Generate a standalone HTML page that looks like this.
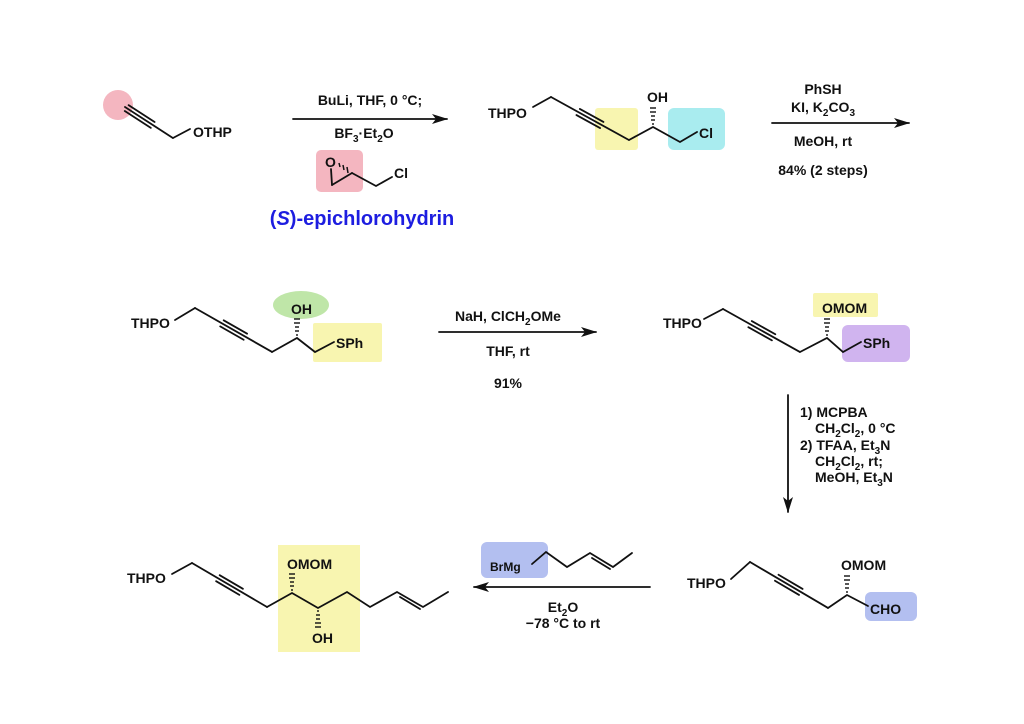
<!DOCTYPE html>
<html><head><meta charset="utf-8"><style>
html,body{margin:0;padding:0;background:#fff;}
svg{display:block;}
text{font-family:"Liberation Sans",Arial,sans-serif;font-weight:bold;font-size:14px;fill:#111;}
.b{stroke:#111;stroke-width:1.8;fill:none;stroke-linecap:round;}
.s{font-size:10px;}
</style></head><body>
<svg width="1024" height="724" viewBox="0 0 1024 724" xmlns="http://www.w3.org/2000/svg">
<defs>
<marker id="ah" markerWidth="16" markerHeight="10" refX="15" refY="5" orient="auto" markerUnits="userSpaceOnUse">
<path d="M0,0 L16,5 L0,10 L4,5 Z" fill="#111"/></marker>
</defs>

<!-- highlights -->
<circle cx="118" cy="105" r="15" fill="#f4b6c0"/>
<rect x="316" y="150" width="47" height="42" rx="5" fill="#f4b6c0"/>
<rect x="595" y="108" width="43" height="42" rx="3" fill="#f8f5b0"/>
<rect x="668" y="108" width="57" height="42" rx="6" fill="#a9ecef"/>
<ellipse cx="301" cy="305" rx="28" ry="14" fill="#bfe6a8"/>
<rect x="313" y="323" width="69" height="39" rx="2" fill="#f8f5b0"/>
<rect x="813" y="293" width="65" height="24" rx="2" fill="#f8f5b0"/>
<rect x="842" y="325" width="68" height="37" rx="6" fill="#d0b4ef"/>
<rect x="865" y="592" width="52" height="29" rx="6" fill="#b3bff0"/>
<rect x="481" y="542" width="67" height="36" rx="6" fill="#b3bff0"/>
<rect x="278" y="545" width="82" height="107" fill="#f8f5b0"/>

<!-- Row1: propargyl OTHP -->
<g transform="translate(125,107) rotate(32.9)">
<line class="b" x1="0" y1="0" x2="57" y2="0"/>
<line class="b" x1="2" y1="-3.5" x2="33" y2="-3.5"/>
<line class="b" x1="2" y1="3.5" x2="33" y2="3.5"/>
</g>
<polyline class="b" points="173,138 190,129"/>
<text x="193" y="137">OTHP</text>

<!-- arrow 1 -->
<line class="b" x1="293" y1="119" x2="447" y2="119" marker-end="url(#ah)"/>
<text x="370" y="105" text-anchor="middle">BuLi, THF, 0 °C;</text>
<text x="364" y="138" text-anchor="middle">BF<tspan class="s" dy="4">3</tspan><tspan dy="-4">·Et</tspan><tspan class="s" dy="4">2</tspan><tspan dy="-4">O</tspan></text>
<!-- epoxide -->
<text x="325" y="167">O</text>
<line class="b" x1="331" y1="169" x2="332" y2="185"/>
<line class="b" x1="332" y1="185" x2="352" y2="173"/>
<g stroke="#111" stroke-width="1.5">
<line x1="339" y1="163" x2="340" y2="167"/><line x1="343" y1="165" x2="344" y2="170"/><line x1="347" y1="167" x2="348" y2="173"/>
</g>
<polyline class="b" points="352,173 376,186 392,177"/>
<text x="394" y="178">Cl</text>
<text x="362" y="225" text-anchor="middle" style="font-size:20px;fill:#1d1de0">(<tspan style="font-style:italic;fill:#1d1de0">S</tspan>)-epichlorohydrin</text>

<!-- product 1 -->
<text x="488" y="118">THPO</text>
<line class="b" x1="533" y1="107" x2="551" y2="97"/>
<g transform="translate(551,97) rotate(28.9)">
<line class="b" x1="0" y1="0" x2="89" y2="0"/>
<line class="b" x1="31" y1="-3.5" x2="58" y2="-3.5"/>
<line class="b" x1="31" y1="3.5" x2="58" y2="3.5"/>
</g>
<polyline class="b" points="629,140 653,127 680,142 697,132"/>
<g stroke="#111" stroke-width="1.4">
<line x1="652" y1="124" x2="654" y2="124"/><line x1="651" y1="120" x2="655" y2="120"/><line x1="651" y1="116" x2="655" y2="116"/><line x1="650" y1="112" x2="656" y2="112"/><line x1="650" y1="108" x2="656" y2="108"/>
</g>
<text x="647" y="102">OH</text>
<text x="699" y="138">Cl</text>

<!-- arrow 2 -->
<line class="b" x1="772" y1="123" x2="909" y2="123" marker-end="url(#ah)"/>
<text x="823" y="94" text-anchor="middle">PhSH</text>
<text x="823" y="112" text-anchor="middle">KI, K<tspan class="s" dy="4">2</tspan><tspan dy="-4">CO</tspan><tspan class="s" dy="4">3</tspan></text>
<text x="823" y="146" text-anchor="middle">MeOH, rt</text>
<text x="823" y="175" text-anchor="middle">84% (2 steps)</text>

<!-- Row2 left -->
<text x="131" y="328">THPO</text>
<line class="b" x1="175" y1="320" x2="195" y2="308"/>
<g transform="translate(195,308) rotate(29.7)">
<line class="b" x1="0" y1="0" x2="88.7" y2="0"/>
<line class="b" x1="31" y1="-3.5" x2="58" y2="-3.5"/>
<line class="b" x1="31" y1="3.5" x2="58" y2="3.5"/>
</g>
<polyline class="b" points="272,352 297,338 315,352 334,342"/>
<g stroke="#111" stroke-width="1.4">
<line x1="296" y1="335" x2="298" y2="335"/><line x1="295" y1="331" x2="299" y2="331"/><line x1="295" y1="327" x2="299" y2="327"/><line x1="294" y1="323" x2="300" y2="323"/><line x1="294" y1="319" x2="300" y2="319"/>
</g>
<text x="291" y="314">OH</text>
<text x="336" y="348">SPh</text>

<!-- arrow 3 -->
<line class="b" x1="439" y1="332" x2="596" y2="332" marker-end="url(#ah)"/>
<text x="508" y="321" text-anchor="middle">NaH, ClCH<tspan class="s" dy="4">2</tspan><tspan dy="-4">OMe</tspan></text>
<text x="508" y="356" text-anchor="middle">THF, rt</text>
<text x="508" y="388" text-anchor="middle">91%</text>

<!-- Row2 right -->
<text x="663" y="328">THPO</text>
<line class="b" x1="704" y1="319" x2="723" y2="309"/>
<g transform="translate(723,309) rotate(29.2)">
<line class="b" x1="0" y1="0" x2="88" y2="0"/>
<line class="b" x1="31" y1="-3.5" x2="58" y2="-3.5"/>
<line class="b" x1="31" y1="3.5" x2="58" y2="3.5"/>
</g>
<polyline class="b" points="800,352 827,338 843,352 861,342"/>
<g stroke="#111" stroke-width="1.4">
<line x1="826" y1="335" x2="828" y2="335"/><line x1="825" y1="331" x2="829" y2="331"/><line x1="825" y1="327" x2="829" y2="327"/><line x1="824" y1="323" x2="830" y2="323"/><line x1="824" y1="319" x2="830" y2="319"/>
</g>
<text x="822" y="313">OMOM</text>
<text x="863" y="348">SPh</text>

<!-- vertical arrow -->
<line class="b" x1="788" y1="395" x2="788" y2="512" marker-end="url(#ah)"/>
<text x="800" y="417">1) MCPBA</text>
<text x="815" y="433">CH<tspan class="s" dy="4">2</tspan><tspan dy="-4">Cl</tspan><tspan class="s" dy="4">2</tspan><tspan dy="-4">, 0 °C</tspan></text>
<text x="800" y="450">2) TFAA, Et<tspan class="s" dy="4">3</tspan><tspan dy="-4">N</tspan></text>
<text x="815" y="466">CH<tspan class="s" dy="4">2</tspan><tspan dy="-4">Cl</tspan><tspan class="s" dy="4">2</tspan><tspan dy="-4">, rt;</tspan></text>
<text x="815" y="482">MeOH, Et<tspan class="s" dy="4">3</tspan><tspan dy="-4">N</tspan></text>

<!-- Row3 right -->
<text x="687" y="588">THPO</text>
<line class="b" x1="731" y1="579" x2="750" y2="562"/>
<g transform="translate(750,562) rotate(30.5)">
<line class="b" x1="0" y1="0" x2="90.5" y2="0"/>
<line class="b" x1="31" y1="-3.5" x2="59" y2="-3.5"/>
<line class="b" x1="31" y1="3.5" x2="59" y2="3.5"/>
</g>
<polyline class="b" points="828,608 847,595 868,606"/>
<g stroke="#111" stroke-width="1.4">
<line x1="846" y1="592" x2="848" y2="592"/><line x1="845" y1="588" x2="849" y2="588"/><line x1="845" y1="584" x2="849" y2="584"/><line x1="844" y1="580" x2="850" y2="580"/><line x1="844" y1="576" x2="850" y2="576"/>
</g>
<text x="841" y="570">OMOM</text>
<text x="870" y="614">CHO</text>

<!-- arrow 4 -->
<line class="b" x1="650" y1="587" x2="474" y2="587" marker-end="url(#ah)"/>
<text x="490" y="571" style="font-size:12px">BrMg</text>
<polyline class="b" points="532,564 546,552 567,567 590,553 613,567 632,553"/>
<line class="b" x1="592" y1="558" x2="610" y2="569"/>
<text x="563" y="612" text-anchor="middle">Et<tspan class="s" dy="4">2</tspan><tspan dy="-4">O</tspan></text>
<text x="563" y="628" text-anchor="middle">−78 °C to rt</text>

<!-- Row3 left -->
<text x="127" y="583">THPO</text>
<line class="b" x1="172" y1="574" x2="192" y2="563"/>
<g transform="translate(192,563) rotate(30.4)">
<line class="b" x1="0" y1="0" x2="87" y2="0"/>
<line class="b" x1="30" y1="-3.5" x2="57" y2="-3.5"/>
<line class="b" x1="30" y1="3.5" x2="57" y2="3.5"/>
</g>
<polyline class="b" points="267,607 292,593 318,608 347,592 370,607 397,592 423,607 448,592"/>
<line class="b" x1="400" y1="597" x2="420" y2="609"/>
<g stroke="#111" stroke-width="1.4">
<line x1="291" y1="590" x2="293" y2="590"/><line x1="290" y1="586" x2="294" y2="586"/><line x1="290" y1="582" x2="294" y2="582"/><line x1="289" y1="578" x2="295" y2="578"/><line x1="289" y1="574" x2="295" y2="574"/>
<line x1="317" y1="611" x2="319" y2="611"/><line x1="316" y1="615" x2="320" y2="615"/><line x1="316" y1="619" x2="320" y2="619"/><line x1="315" y1="623" x2="321" y2="623"/><line x1="315" y1="627" x2="321" y2="627"/>
</g>
<text x="287" y="569">OMOM</text>
<text x="312" y="643">OH</text>
</svg>
</body></html>
